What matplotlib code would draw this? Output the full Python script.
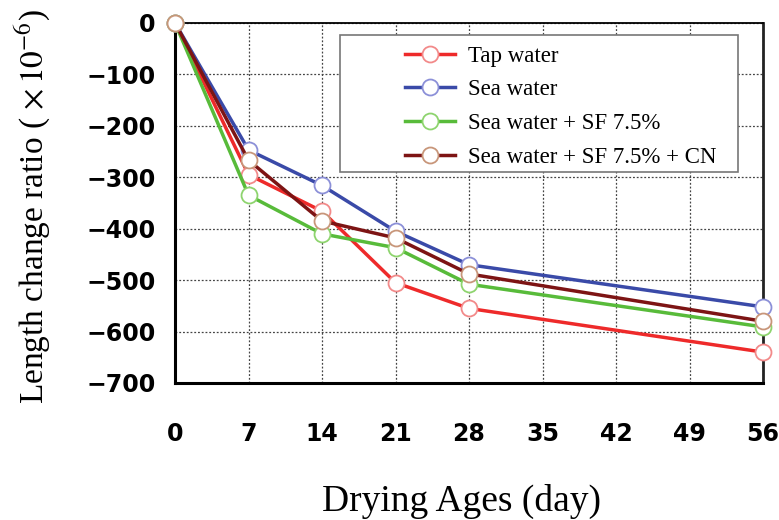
import matplotlib.pyplot as plt
from matplotlib.patches import Rectangle

# --- data ---
days = [0, 7, 14, 21, 28, 56]
tap_water = [0, -295, -366, -505, -555, -640]
sea_water = [0, -247, -316, -405, -470, -552]
sea_sf = [0, -335, -410, -437, -508, -591]
sea_sf_cn = [0, -267, -385, -418, -488, -580]

labels = ['Tap water', 'Sea water', 'Sea water + SF 7.5%', 'Sea water + SF 7.5% + CN']
series = [tap_water, sea_water, sea_sf, sea_sf_cn]
line_colors = ['#ee2a2a', '#3a4aa8', '#58bb3a', '#7d1414']
edge_colors = ['#f28a8a', '#8c90d8', '#8ed46e', '#c8967a']

x_ticks = list(range(0, 57, 7))
y_ticks = list(range(-700, 1, 100))

plt.rcParams['mathtext.fontset'] = 'stix'

fig = plt.figure(figsize=(7.79, 5.2), dpi=100)
ax = fig.add_axes([0.2247, 0.2635, 0.7548, 0.6923])

for vals, lab, lc, ec in zip(series, labels, line_colors, edge_colors):
    ax.plot(days, vals, color=lc, lw=2.5, marker='o', markersize=11.5,
            markerfacecolor='white', markeredgecolor=ec, markeredgewidth=1.3,
            label=lab, zorder=3, clip_on=False)

ax.set_xlim(0, 56)
ax.set_ylim(-700, 0)
ax.set_xticks(x_ticks)
ax.set_yticks(y_ticks)
ax.set_xticklabels([str(t) for t in x_ticks], fontfamily='DejaVu Sans',
                   fontweight='bold', fontsize=17)
ax.set_yticklabels([str(t).replace('-', '\u2212') for t in y_ticks],
                   fontfamily='DejaVu Sans', fontweight='bold', fontsize=17)
ax.tick_params(axis='x', length=0, pad=28)
ax.tick_params(axis='y', length=0, pad=14)

ax.grid(True, color='#444444', linestyle=(0, (1.5, 1.5)), lw=0.9)
ax.set_axisbelow(True)
for side in ['left', 'bottom']:
    ax.spines[side].set_linewidth(2.2)
ax.spines['top'].set_linewidth(1.3)
ax.spines['right'].set_linewidth(2.0)
ax.spines['right'].set_color('#222222')

# axis titles, placed as in the reference
fig.text(33 / 779, 1 - 207 / 520, r'Length change ratio ( $\times\,10^{-6}$)',
         rotation=90, ha='center', va='center', fontfamily='Liberation Serif', fontsize=24)
fig.text(461 / 779, 1 - 501 / 520, 'Drying Ages (day)', ha='center', va='center',
         fontfamily='Liberation Serif', fontsize=27)

# legend: entries without frame, separate box drawn behind
ax.add_patch(Rectangle((0.281, 0.586), 0.677, 0.381, transform=ax.transAxes,
                       facecolor='white', edgecolor='#777777', lw=1.2, zorder=4))
leg = ax.legend(loc='upper left', bbox_to_anchor=(0.391, 0.937),
                prop={'family': 'Liberation Serif', 'size': 16.5},
                frameon=False, handlelength=2.2, borderpad=0, labelspacing=0.55,
                handletextpad=0.55, borderaxespad=0)
leg.set_zorder(5)

plt.savefig('out.png', dpi=100)
